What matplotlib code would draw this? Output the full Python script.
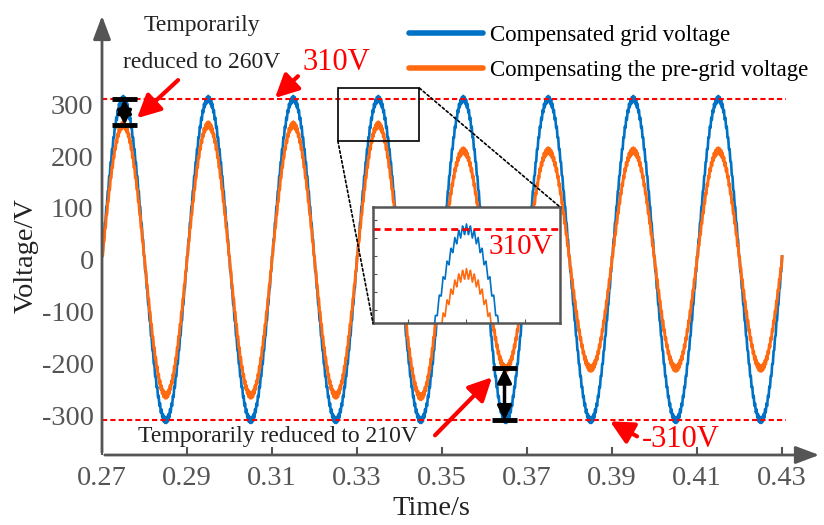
import numpy as np
import matplotlib
matplotlib.use('Agg')
import matplotlib.pyplot as plt
from matplotlib.patches import Rectangle, ConnectionPatch

plt.rcParams['font.family'] = ['Liberation Serif', 'DejaVu Serif']

# half-cycle peak values (V), 50 Hz, starting at 0.27 s
t_start = 0.27
t_end = 0.43
freq = 50
blue_peaks = [310, 310, 310, 310, 310, 310, 310, 310,
              310, 310, 310, 310, 310, 310, 310, 310]
orange_peaks = [260, 262, 260, 262, 260, 262, 260, 265,
                210, 210, 210, 210, 210, 210, 210, 210]
ripple_amp = 6        # switching ripple (V)
ripple_freq = 3000    # switching ripple (Hz)
xticks = [0.27, 0.29, 0.31, 0.33, 0.35, 0.37, 0.39, 0.41, 0.43]
yticks = [-300, -200, -100, 0, 100, 200, 300]
labels = ['Compensated grid voltage', 'Compensating the pre-grid voltage']

blue_c = '#0072C6'
orange_c = '#FF6A10'
gray = '#555555'

t = np.linspace(t_start, t_end, 8001)
half = np.minimum(((t - t_start) / (0.5 / freq)).astype(int), len(blue_peaks) - 1)
carrier = np.sin(2 * np.pi * freq * (t - t_start))
tri = 2 * np.abs(2 * (np.mod(t * ripple_freq, 1.0) - 0.5)) - 1
v_blue = np.array(blue_peaks)[half] * carrier + ripple_amp * tri
v_orange = np.array(orange_peaks)[half] * carrier + ripple_amp * tri

fig = plt.figure(figsize=(8.24, 5.25), dpi=100)
ax = fig.add_axes([102 / 824, 70 / 525, 720 / 824, 442 / 525])

ax.plot(t, v_blue, color=blue_c, lw=1.9, label=labels[0])
ax.plot(t, v_orange, color=orange_c, lw=2.1, label=labels[1])
ax.hlines([310, -310], 0.27, 0.431, colors='red', linestyles=(0, (2.5, 1.5)), lw=1.5)

ax.set_xlim(0.27, 0.4394)
ax.set_ylim(-377, 476)
ax.set_xticks(xticks)
ax.set_xticklabels(['%.2f' % x for x in xticks])
ax.set_yticks(yticks)
ax.set_yticklabels([str(y) for y in yticks])
ax.tick_params(axis='x', direction='in', length=6, width=1.5, color=gray,
               labelsize=20.5, labelcolor=gray, pad=8)
ax.tick_params(axis='y', length=0, labelsize=20.5, labelcolor=gray, pad=6)
for s in ax.spines.values():
    s.set_visible(False)
ax.annotate('', xy=(1, 0), xytext=(0, 0), xycoords='axes fraction',
            arrowprops=dict(arrowstyle='-|>,head_length=0.8,head_width=0.3',
                            color=gray, lw=2, mutation_scale=18))
ax.annotate('', xy=(0, 1), xytext=(0, 0), xycoords='axes fraction',
            arrowprops=dict(arrowstyle='-|>,head_length=0.8,head_width=0.3',
                            color=gray, lw=2, mutation_scale=18))

ax.set_xlabel('Time/s', fontsize=20.5, color='#222222')
ax.set_ylabel('Voltage/V', fontsize=20.5, color='#222222')
ax.xaxis.set_label_coords(0.457, -0.093)
ax.yaxis.set_label_coords(-0.088, 0.452)

ax.legend(loc='upper left', bbox_to_anchor=(398 / 824, 1 - 14 / 525),
          bbox_transform=fig.transFigure, frameon=False, fontsize=16.5,
          handlelength=3.2, handletextpad=0.3, labelspacing=0.6, borderpad=0)
for line in ax.get_legend().get_lines():
    line.set_linewidth(4)
    line.set_solid_capstyle('round')

# text annotations
ax.text(0.2935, 452, 'Temporarily', fontsize=17, ha='center', va='center', color='#222222')
ax.text(0.2935, 381, 'reduced to 260V', fontsize=17, ha='center', va='center', color='#222222')
ax.text(0.3171, 381, '310V', fontsize=22, ha='left', va='center', color='red')
ax.text(0.2785, -341, 'Temporarily reduced to 210V', fontsize=17, ha='left', va='center',
        color='#222222')
ax.text(0.3971, -347, '-310V', fontsize=22, ha='left', va='center', color='red')

red_arrow = dict(arrowstyle='-|>,head_length=0.7,head_width=0.35', color='red',
                 lw=3, mutation_scale=20, shrinkA=0, shrinkB=0)
ax.annotate('', xy=(0.27824, 273), xytext=(0.2879, 346.5), arrowprops=red_arrow)
ax.annotate('', xy=(0.3107, 312), xytext=(0.3161, 354), arrowprops=red_arrow)
ax.annotate('', xy=(0.36176, -227), xytext=(0.34835, -339), arrowprops=red_arrow)
ax.annotate('', xy=(0.38953, -312), xytext=(0.39588, -341), arrowprops=red_arrow)

# black bars with double arrows
blk_arrow = dict(arrowstyle='<|-|>,head_length=0.6,head_width=0.3', color='black',
                 lw=2.5, mutation_scale=14, shrinkA=0, shrinkB=0)
for xc, y1, y2 in [(0.2753, 310, 260), (0.3647, -210, -310)]:
    ax.hlines([y1, y2], xc - 0.003, xc + 0.003, colors='black', lw=3.5)
    ax.annotate('', xy=(xc, y2), xytext=(xc, y1), arrowprops=blk_arrow)

# zoom box
ax.add_patch(Rectangle((0.3255, 229), 0.0192, 102, fill=False, ec='black', lw=1.2, zorder=5))

axins = fig.add_axes([373 / 824, 1 - 323 / 525, 187 / 824, 116 / 525])
axins.plot(t, v_blue, color=blue_c, lw=1.2)
axins.plot(t, v_orange, color=orange_c, lw=1.2)
axins.axhline(310, color='red', ls=(0, (2.5, 1.5)), lw=2)
axins.set_xlim(0.327, 0.343)
axins.set_ylim(205, 335)
axins.set_xticks([0.33, 0.335, 0.34])
axins.set_yticks([220, 240, 260, 280, 300, 320])
axins.tick_params(direction='in', length=3, width=0.8, color=gray,
                  labelbottom=False, labelleft=False)
for s in axins.spines.values():
    s.set_color(gray)
    s.set_linewidth(1.8)
axins.text(0.3369, 290, '310V', fontsize=21, ha='left', va='center', color='red')

for xa, ya, xb, yb in [(0.3255, 229, 0, 0), (0.3447, 331, 1, 1)]:
    con = ConnectionPatch(xyA=(xa, ya), coordsA=ax.transData, xyB=(xb, yb),
                          coordsB=axins.transAxes, color='black', ls=(0, (1.5, 1.5)),
                          lw=1.2)
    fig.add_artist(con)

fig.savefig('out.png', dpi=100)
